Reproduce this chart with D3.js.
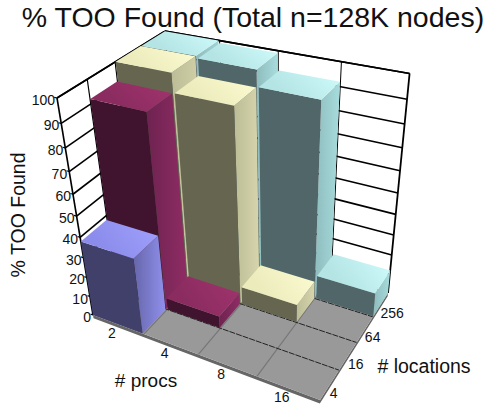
<!DOCTYPE html>
<meta charset="utf-8">
<style>
  body { margin: 0; background: #fff; }
  text { font-family: "Liberation Sans", Arial, sans-serif; fill: #111; }
</style>
<script src="https://d3js.org/d3.v7.min.js"></script>
<div id="chart"></div>
<script>

var procs = ["2", "4", "8", "16"];
var locations = ["4", "16", "64", "256"];
var percentTicks = [0, 10, 20, 30, 40, 50, 60, 70, 80, 90, 100];

// one row of bars per location count, one value per proc count
var found4 = [38, 0, 0, 0];
var found16 = [92, 6, 0, 0];
var found64 = [100, 92, 9, 0];
var found256 = [100, 99, 92, 12];

var width = 487, height = 406;

var svg = d3.select("#chart").append("svg")
    .attr("width", width)
    .attr("height", height);

// screen position of the box corners, these fix the perspective
var origin = [93, 315],    // front left, floor
    cornerX = [320, 400],  // front right, floor
    cornerY = [181, 231],  // back left, floor
    cornerZ = [57, 98],    // front left, top
    floorBack = [388, 293], // back right, floor
    wallBack = [165, 32];  // back left, top

function solve(m, v) {
  var a = m.map(function(r, i) { return r.concat(v[i]); }), n = v.length;
  for (var i = 0; i < n; i++) {
    var p = i;
    for (var k = i + 1; k < n; k++) if (Math.abs(a[k][i]) > Math.abs(a[p][i])) p = k;
    var t = a[i]; a[i] = a[p]; a[p] = t;
    for (var r = 0; r < n; r++) {
      if (r == i) continue;
      var f = a[r][i] / a[i][i];
      for (var c = i; c <= n; c++) a[r][c] -= f * a[i][c];
    }
  }
  return a.map(function(r, i) { return r[n] / r[i]; });
}

// weight of each corner, from the floor quad and from the left wall quad
function weights(p, q, opposite) {
  return solve(
    [0, 1, 2].map(function(i) {
      function h(d) { return i < 2 ? d[i] : 1; }
      return [h(p), h(q), -h(opposite)];
    }),
    [origin[0], origin[1], 1]
  );
}
var floorW = weights(cornerX, cornerY, floorBack);
var wallW = weights(cornerY, cornerZ, wallBack);
var wx = floorW[0], wy = floorW[1], wz = wallW[1];

// box coordinates 0..1 to screen
function project(x, y, z) {
  var o = 1 - x - y - z, hx = 0, hy = 0, hw = 0;
  [[cornerX, wx * x], [cornerY, wy * y], [cornerZ, wz * z], [origin, o]].forEach(function(d) {
    hx += d[0][0] * d[1];
    hy += d[0][1] * d[1];
    hw += d[1];
  });
  return [hx / hw, hy / hw];
}

var x = d3.scaleBand().domain(procs).range([0, 1]).paddingInner(0.03);
var y = d3.scaleBand().domain(locations).range([0, 1]).paddingInner(0.03);
var xGrid = d3.scaleBand().domain(procs).range([0, 1]);
var yGrid = d3.scaleBand().domain(locations).range([0, 1]);
var z = d3.scaleLinear().domain([0, 100]).range([0, 1]);

var line = d3.line();

function poly(parent, points) {
  return parent.append("path").attr("d", line(points.map(function(p) { return project(p[0], p[1], p[2]); })) + "Z");
}
function seg(parent, a, b, sw, color) {
  return parent.append("path")
    .attr("d", line([project(a[0], a[1], a[2]), project(b[0], b[1], b[2])]))
    .attr("fill", "none")
    .attr("stroke", color || "#000")
    .attr("stroke-width", sw);
}

// walls
var walls = svg.append("g");
percentTicks.forEach(function(t) {
  var v = z(t);
  seg(walls, [0, 0, v], [0, 1, v], 1.6);
  seg(walls, [0, 1, v], [1, 1, v], 1.6);
  // tick sticking out of the axis
  seg(walls, [0, 0, v], [-0.012, 0, v], 1.2);
});
seg(walls, [0, 0, 0], [0, 0, 1], 1.6);
seg(walls, [1, 1, 0], [1, 1, 1], 1.8);
xGrid.domain().forEach(function(p) {
  var gx = xGrid(p);
  if (gx > 0) seg(walls, [gx, 1, 0], [gx, 1, 1], 1);
});
yGrid.domain().forEach(function(l) {
  var gy = yGrid(l);
  if (gy > 0) seg(walls, [0, gy, 0], [0, gy, 1], 1.2);
});
seg(walls, [0, 1, 0], [0, 1, 1], 1);

// floor with its slab edge
var floor = svg.append("g");
poly(floor, [[0, 0, 0], [0, 0, -0.018], [1, 0, -0.018], [1, 1, -0.018], [1, 1, 0], [1, 0, 0]]).attr("fill", "#666");
poly(floor, [[0, 0, 0], [1, 0, 0], [1, 1, 0], [0, 1, 0]]).attr("fill", "#999");
xGrid.domain().forEach(function(p) {
  var gx = xGrid(p);
  if (gx > 0) seg(floor, [gx, 0, 0], [gx, 1, 0], 1.2, "#777");
});
yGrid.domain().forEach(function(l) {
  var gy = yGrid(l);
  if (gy > 0) seg(floor, [0, gy, 0], [1, gy, 0], 1, "#222").attr("stroke-dasharray", "6 1");
});

// back and top lines sit over the walls
seg(svg, [0, 0, 1], [0, 1, 1], 1.6);
seg(svg, [0, 1, 1], [1, 1, 1], 1.6);

var defs = svg.append("defs");
function gradient(id, x2, y2, c1, c2) {
  var g = defs.append("linearGradient").attr("id", id)
    .attr("x1", 0).attr("y1", 0).attr("x2", x2).attr("y2", y2);
  g.append("stop").attr("offset", 0).attr("stop-color", c1);
  g.append("stop").attr("offset", 1).attr("stop-color", c2);
  return "url(#" + id + ")";
}

// colours per row: front, side from, side to, top from, top to
var rowColors = [
  ["#40406b", "#6666aa", "#9090ee", "#8c8cec", "#a4a4ff"],
  ["#40142e", "#6e2350", "#8f2c65", "#8a2c60", "#a63570"],
  ["#666650", "#bcbc96", "#d6d5ac", "#ecebbc", "#ffffd6"],
  ["#506668", "#8fbcbe", "#a8dcdc", "#b4e4e4", "#d4ffff"]
];

var rows = [found4, found16, found64, found256];

// back row first, left to right inside a row
var bars = svg.append("g");
d3.range(3, -1, -1).forEach(function(r) {
  var c = rowColors[r];
  var side = gradient("side" + r, 1, 0, c[1], c[2]);
  var top = gradient("top" + r, 1, -0.4, c[3], c[4]);
  rows[r].forEach(function(value, i) {
    if (!value) return;
    var x0 = x(procs[i]), x1 = x0 + x.bandwidth(),
        y0 = y(locations[r]), y1 = y0 + y.bandwidth(),
        h = z(value);
    var g = bars.append("g");
    poly(g, [[x1, y0, 0], [x1, y1, 0], [x1, y1, h], [x1, y0, h]]).attr("fill", side);
    poly(g, [[x0, y0, 0], [x1, y0, 0], [x1, y0, h], [x0, y0, h]]).attr("fill", c[0]);
    poly(g, [[x0, y0, h], [x1, y0, h], [x1, y1, h], [x0, y1, h]]).attr("fill", top);
  });
});

function label(pos, txt, size, anchor) {
  return svg.append("text")
    .attr("x", pos[0]).attr("y", pos[1])
    .attr("font-size", size)
    .attr("text-anchor", anchor || "middle")
    .text(txt);
}

// axis tick labels
percentTicks.forEach(function(t) {
  var p = project(0, 0, z(t));
  label([p[0] - 2, p[1] + 7], t, 14, "end");
});
procs.forEach(function(p) {
  var a = project(xGrid(p) + xGrid.bandwidth() / 2, 0, 0);
  label([a[0] - 6, a[1] + 14], p, 14);
});
locations.forEach(function(l) {
  var a = project(1, yGrid(l) + yGrid.bandwidth() / 2, 0);
  label([a[0], a[1] + 13], l, 14, "start");
});

label([253, 27], "% TOO Found (Total n=128K nodes)", 28.5);
label([146, 387], "# procs", 19);
label([424, 373], "# locations", 19.5);
svg.append("text")
  .attr("transform", "translate(25,215) rotate(-90)")
  .attr("font-size", 19.5)
  .attr("text-anchor", "middle")
  .text("% TOO Found");

</script>
